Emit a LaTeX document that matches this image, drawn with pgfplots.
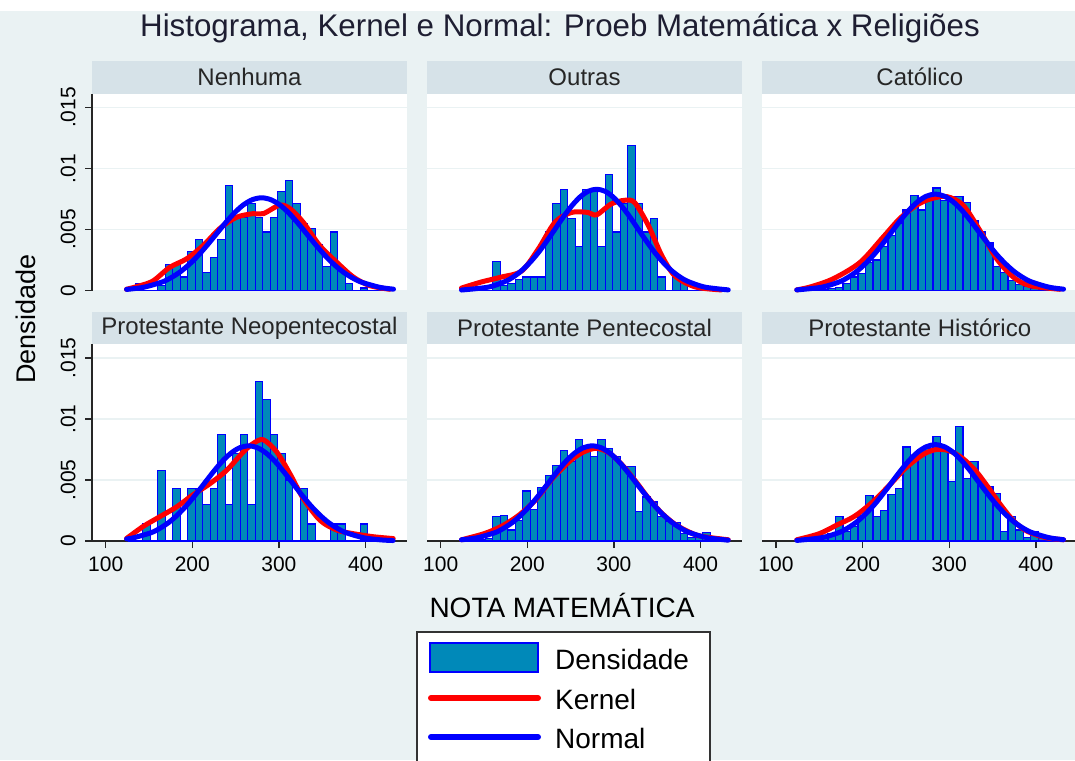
\documentclass[border=0pt]{standalone}
\usepackage{fontspec}
\setmainfont{Liberation Sans}
\usepackage{pgfplots}
\usepackage{pgfplotstable}
\pgfplotsset{compat=1.18}

\definecolor{bgc}{RGB}{234,242,243}
\definecolor{hdrc}{RGB}{214,226,232}
\definecolor{barc}{RGB}{0,137,185}
\definecolor{ttl}{RGB}{30,30,50}

% histogram: left bin edge, density per religion group
\pgfplotstableread{
e      h1      h2     h3      h4     h5     h6
125.50 0       0      0       0      0      0
134.16 0.00055 0      0       0      0      0
142.82 0       0      0       0.0014 0.0001 0
151.48 0       0      0.0001  0      0.0002 0.0002
160.14 0.0004  0.0024 0.00014 0.0058 0.0020 0.0006
168.80 0.0021  0.0004 0.00027 0      0.0021 0.0020
177.46 0.0021  0.0006 0.00055 0.0043 0.0009 0.0008
186.12 0.0011  0.0009 0.0011  0      0.0017 0.0012
194.78 0.0032  0.0011 0.0014  0.0043 0.0041 0.0021
203.44 0.0042  0.0011 0.0023  0.0043 0.0026 0.0037
212.10 0.0015  0.0011 0.0025  0.0030 0.0044 0.0020
220.76 0.0027  0.0048 0.0036  0.0043 0.0054 0.0025
229.42 0.0042  0.0071 0.0045  0.0087 0.0062 0.0038
238.08 0.0086  0.0083 0.0055  0.0030 0.0074 0.0043
246.74 0.0060  0.0059 0.0066  0.0072 0.0065 0.0077
255.40 0.0060  0.0036 0.0078  0.0087 0.0083 0.0068
264.06 0.0071  0.0083 0.0066  0.0030 0.0077 0.0075
272.72 0.0060  0.0081 0.0074  0.0131 0.0069 0.0076
281.38 0.0048  0.0036 0.0084  0.0116 0.0083 0.0086
290.04 0.0060  0.0095 0.0074  0.0087 0.0076 0.0077
298.70 0.0081  0.0048 0.0077  0.0072 0.0069 0.0049
307.36 0.0090  0.0071 0.0077  0.0050 0.0061 0.0094
316.02 0.0071  0.0119 0.0072  0      0.0061 0.0051
324.68 0.0055  0.0071 0.0057  0.0043 0.0024 0.0065
333.34 0.0051  0.0048 0.0048  0.0014 0.0036 0.0049
342.00 0.0038  0.0059 0.0039  0      0.0032 0.0045
350.66 0.0020  0.0011 0.0020  0      0.0020 0.0039
359.32 0.0048  0      0.0015  0.0014 0.0016 0.0008
367.98 0.0019  0.0011 0.0008  0.0014 0.0015 0.0020
376.64 0.00055 0.0008 0.0005  0      0.0006 0.0009
385.30 0       0      0.0003  0      0.0003 0.0003
393.96 0.0002  0      0.00014 0.0014 0.0003 0.0008
402.62 0       0      0.00005 0      0.0007 0.0002
411.28 0       0      0       0      0.0002 0
419.94 0       0      0       0      0      0
428.60 0       0      0       0      0      0
}\bins

\pgfplotsset{
  panel/.style={scale only axis, width=315pt, height=197pt, anchor=south west,
    xmin=84.2, xmax=447.9, ymin=0, ymax=0.01615, clip=false,
    axis background/.style={fill=white},
    axis lines*=left,
    axis line style={-, line width=1.4pt, black!85},
    every outer x axis line/.append style={-},
    every outer y axis line/.append style={-},
    tick style={line width=1.4pt, black!85}, major tick length=7pt, tick align=outside,
    scaled y ticks=false, scaled x ticks=false,
    ytick={0,0.005,0.01,0.015}, yticklabels={0,.005,.01,.015},
    xtick={100,200,300,400}, xticklabels={100,200,300,400},
    ymajorgrids, grid style={draw=bgc, line width=1.5pt},
    ticklabel style={font=\fontsize{21}{21}\selectfont, text=black},
    yticklabel style={rotate=90, anchor=south},
    yticklabel shift=6pt, xticklabel shift=5pt,
  },
  toprow/.style={x axis line style={draw=none}, xtick=\empty},
  inner/.style={y axis line style={draw=none}, ytick style={draw=none}, yticklabels={}},
  hist/.style={ybar interval, fill=barc, draw=blue, line width=1.2pt},
  kern/.style={red, line width=5pt, smooth, line join=round, line cap=round},
  norm/.style={blue, line width=5pt, smooth, line join=round, line cap=round},
}

\begin{document}
\begin{tikzpicture}
\path[use as bounding box] (0pt,0pt) rectangle (1075pt,-760pt);
\fill[bgc] (0pt,0pt) rectangle (1075pt,-760pt);
\fill[white] (0pt,0pt) rectangle (1075pt,-11pt);

\node[font=\fontsize{31.3}{31.3}\selectfont, text=ttl] at (560pt,-28pt)
  {Histograma, Kernel e Normal: Proeb Matemática x Religiões};

% strip headers
\foreach \x/\y/\t in {92/61/Nenhuma, 427/61/Outras, 762.3/61/Católico,
  92/312/Protestante Neopentecostal, 427/312/Protestante Pentecostal,
  762.3/312/Protestante Histórico}{
  \fill[hdrc] (\x pt,-\y pt) rectangle ({\x pt+315pt},{-\y pt-32.5pt});
  \node[font=\fontsize{24}{24}\selectfont, text=black!85] at ({\x pt+157.5pt},{-\y pt-16pt}) {\t};
}

% Nenhuma
\begin{axis}[panel, toprow, at={(92pt,-290.5pt)}]
\addplot[hist] table[x=e, y=h1] {\bins};
\addplot[kern] coordinates {(124,0.0001) (140,0.0004) (155,0.0008) (174,0.0019) (193.5,0.0026)
 (212.7,0.0037) (232,0.0051) (251,0.0060) (270,0.0063) (282,0.0063) (301,0.0070) (313,0.0067)
 (328,0.0056) (347,0.0037) (367,0.0023) (386,0.0011) (405,0.0004) (428,0.0001)};
\addplot[norm] coordinates {(124.1,0.00009) (143.5,0.00026) (164.5,0.00068) (175,0.00103)
 (185.5,0.00150) (196,0.00211) (206.5,0.00285) (217,0.00370) (227.5,0.00461) (238,0.00552)
 (248.5,0.00635) (259,0.00702) (269.5,0.00745) (280,0.0076) (290.5,0.00745) (301,0.00702)
 (311.5,0.00635) (322,0.00552) (332.5,0.00461) (343,0.00370) (353.5,0.00285) (364,0.00211)
 (374.5,0.00150) (385,0.00103) (395.5,0.00068) (416.5,0.00026) (432.3,0.00011)};
\end{axis}

% Outras
\begin{axis}[panel, toprow, inner, at={(427pt,-290.5pt)}]
\addplot[hist] table[x=e, y=h2] {\bins};
\addplot[kern] coordinates {(124,0.0002) (147,0.0007) (170,0.0011) (193.5,0.0016) (212.7,0.0034)
 (232,0.0056) (251,0.0064) (270,0.0064) (280,0.0062) (297,0.0071) (313,0.0074) (324,0.0072)
 (340,0.0053) (355,0.0029) (370.5,0.0012) (393.6,0.0003) (424,0.00005)};
\addplot[norm] coordinates {(124,0.00004) (155.2,0.00028) (174.4,0.00074) (184,0.00112)
 (193.6,0.00164) (203.2,0.00231) (212.8,0.00311) (222.4,0.00404) (232,0.00503) (241.6,0.00603)
 (251.2,0.00693) (260.8,0.00766) (270.4,0.00814) (280,0.0083) (289.6,0.00814) (299.2,0.00766)
 (308.8,0.00693) (318.4,0.00603) (328,0.00503) (337.6,0.00404) (347.2,0.00311) (356.8,0.00231)
 (366.4,0.00164) (376,0.00112) (385.6,0.00074) (404.8,0.00028) (432,0.00005)};
\end{axis}

% Catolico
\begin{axis}[panel, toprow, inner, at={(762.3pt,-290.5pt)}]
\addplot[hist] table[x=e, y=h3] {\bins};
\addplot[kern] coordinates {(124,0.00005) (140,0.0003) (166,0.00096) (197,0.0023) (224,0.0044)
 (243,0.0059) (262.5,0.0070) (278,0.0075) (297,0.0077) (316,0.0070) (335.6,0.0049)
 (354.8,0.0026) (374,0.0011) (393,0.0004) (428,0.0001)};
\addplot[norm] coordinates {(124,0.00005) (152.7,0.00027) (172.9,0.00070) (183,0.00107)
 (193.1,0.00156) (203.2,0.00220) (213.3,0.00296) (223.4,0.00385) (233.5,0.00479) (243.6,0.00574)
 (253.7,0.00660) (263.8,0.00729) (273.9,0.00774) (284,0.0079) (294.1,0.00774) (304.2,0.00729)
 (314.3,0.00660) (324.4,0.00574) (334.5,0.00479) (344.6,0.00385) (354.7,0.00296) (364.8,0.00220)
 (374.9,0.00156) (385,0.00107) (395.1,0.00070) (415.3,0.00027) (432,0.00011)};
\end{axis}

% Protestante Neopentecostal
\begin{axis}[panel, at={(92pt,-541pt)}]
\addplot[hist] table[x=e, y=h4] {\bins};
\addplot[kern] coordinates {(124,0.0002) (143.4,0.0012) (162.7,0.0020) (182,0.0028) (201,0.0038)
 (220.4,0.0047) (239.7,0.0058) (258.9,0.0073) (270.4,0.0080) (282,0.0083) (297.5,0.0073)
 (312.8,0.0055) (328,0.0035) (347.5,0.0017) (366.7,0.0009) (386,0.0006) (409,0.00035) (432,0.0002)};
\addplot[norm] coordinates {(124.2,0.00017) (132.4,0.00027) (152.8,0.00069) (163,0.00106)
 (173.2,0.00154) (183.4,0.00217) (193.6,0.00293) (203.8,0.00380) (214,0.00473) (224.2,0.00566)
 (234.4,0.00652) (244.6,0.00720) (254.8,0.00765) (265,0.0078) (275.2,0.00765) (285.4,0.00720)
 (295.6,0.00652) (305.8,0.00566) (316,0.00473) (326.2,0.00380) (336.4,0.00293) (346.6,0.00217)
 (356.8,0.00154) (367,0.00106) (377.2,0.00069) (397.6,0.00027) (418,0.00009) (431.8,0.00004)};
\end{axis}

% Protestante Pentecostal
\begin{axis}[panel, inner, at={(427pt,-541pt)}]
\addplot[hist] table[x=e, y=h5] {\bins};
\addplot[kern] coordinates {(124,0.0001) (150,0.0006) (170,0.0012) (190,0.0021) (210,0.0034)
 (230,0.0052) (250,0.0066) (265,0.0073) (280,0.0076) (295,0.0072) (310,0.0062) (325,0.0049)
 (340,0.0035) (355,0.0023) (370,0.0014) (385,0.0008) (400,0.0004) (432,0.0001)};
\addplot[norm] coordinates {(124,0.0001) (142.4,0.00027) (162.8,0.00069) (173,0.00106)
 (183.2,0.00154) (193.4,0.00217) (203.6,0.00293) (213.8,0.00380) (224,0.00473) (234.2,0.00566)
 (244.4,0.00652) (254.6,0.00720) (264.8,0.00765) (275,0.0078) (285.2,0.00765) (295.4,0.00720)
 (305.6,0.00652) (315.8,0.00566) (326,0.00473) (336.2,0.00380) (346.4,0.00293) (356.6,0.00217)
 (366.8,0.00154) (377,0.00106) (387.2,0.00069) (407.6,0.00027) (432,0.00007)};
\end{axis}

% Protestante Historico
\begin{axis}[panel, inner, at={(762.3pt,-541pt)}]
\addplot[hist] table[x=e, y=h6] {\bins};
\addplot[kern] coordinates {(124,0.0001) (150,0.0006) (170,0.0013) (190,0.0020) (210,0.0031)
 (230,0.0045) (250,0.0060) (270,0.0071) (285,0.0075) (300,0.0074) (315,0.0068) (330,0.0058)
 (345,0.0044) (360,0.0029) (375,0.0016) (390,0.0008) (410,0.0003) (432,0.0001)};
\addplot[norm] coordinates {(124,0.00005) (152.7,0.00027) (172.9,0.00070) (183,0.00107)
 (193.1,0.00156) (203.2,0.00220) (213.3,0.00296) (223.4,0.00385) (233.5,0.00479) (243.6,0.00574)
 (253.7,0.00660) (263.8,0.00729) (273.9,0.00774) (284,0.0079) (294.1,0.00774) (304.2,0.00729)
 (314.3,0.00660) (324.4,0.00574) (334.5,0.00479) (344.6,0.00385) (354.7,0.00296) (364.8,0.00220)
 (374.9,0.00156) (385,0.00107) (395.1,0.00070) (415.3,0.00027) (432,0.00011)};
\end{axis}

% axis titles
\node[font=\fontsize{27}{27}\selectfont, rotate=90] at (26pt,-319pt) {Densidade};
\node[font=\fontsize{28}{28}\selectfont] at (562pt,-605pt) {NOTA MATEMÁTICA};

% legend
\draw[fill=white, draw=black!80, line width=1.5pt] (417pt,-632pt) rectangle (710pt,-775pt);
\draw[fill=barc, draw=blue, line width=2pt] (430pt,-643pt) rectangle (538pt,-672pt);
\draw[red, line width=6pt, line cap=round] (431pt,-698pt) -- (538pt,-698pt);
\draw[blue, line width=6pt, line cap=round] (431pt,-737pt) -- (538pt,-737pt);
\begin{scope}[every node/.style={font=\fontsize{28}{28}\selectfont, anchor=west, inner sep=0pt}]
\node at (555pt,-659pt) {Densidade};
\node at (555pt,-699pt) {Kernel};
\node at (555pt,-738pt) {Normal};
\end{scope}
\end{tikzpicture}
\end{document}
